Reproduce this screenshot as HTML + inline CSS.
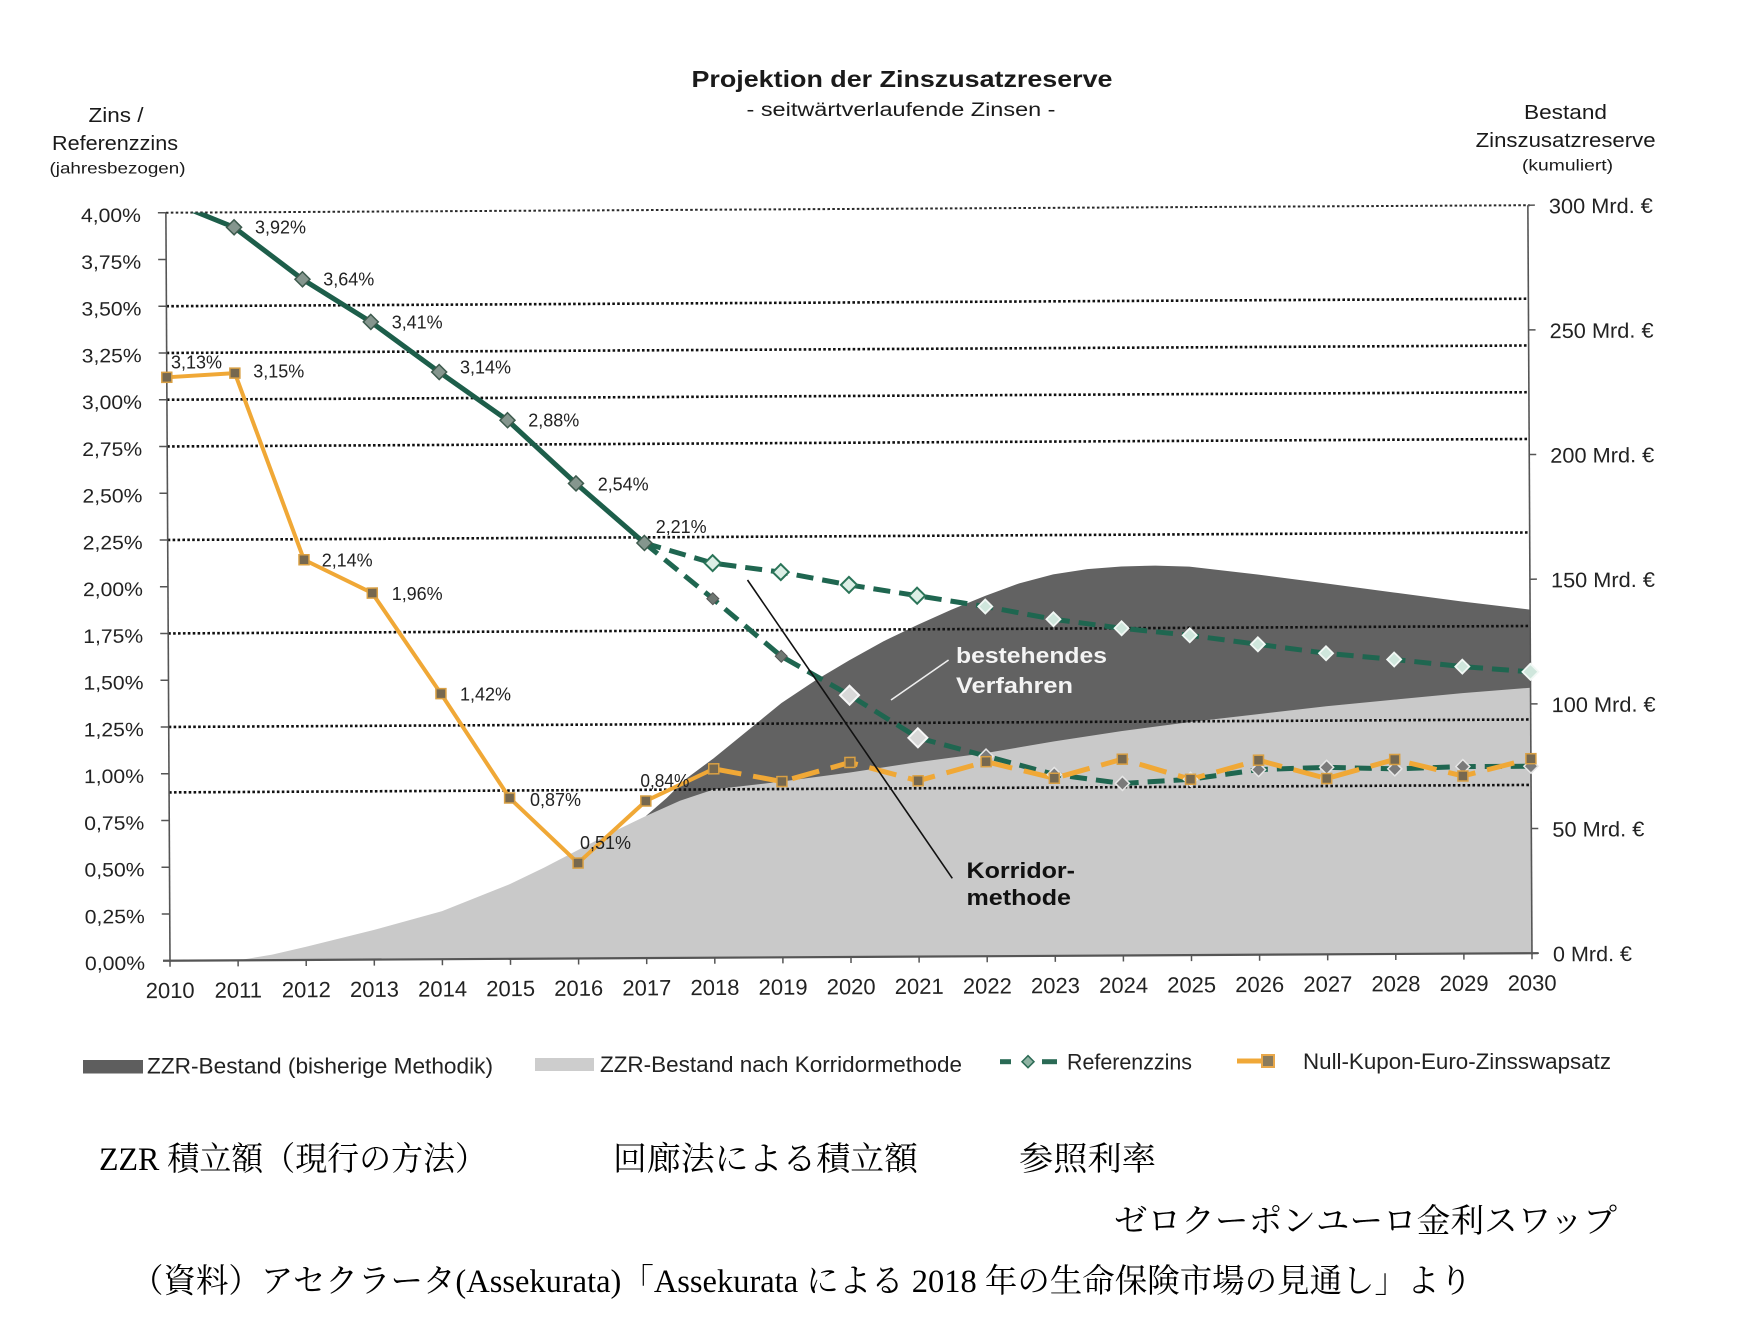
<!DOCTYPE html>
<html><head><meta charset="utf-8"><style>
html,body{margin:0;padding:0;background:#fff;}
svg{display:block;}
.s{font-family:"Liberation Sans",Arial,sans-serif;}
.j{font-family:"Liberation Serif","Noto Serif CJK SC",serif;}
</style></head><body>
<svg width="1741" height="1325" viewBox="0 0 1741 1325" xmlns="http://www.w3.org/2000/svg">
<defs>
<clipPath id="pc"><rect x="160" y="212.7" width="1390" height="760"/></clipPath>
<path id="d7" d="M0,-7 L7,0 L0,7 L-7,0Z"/>
<path id="d75" d="M0,-7.5 L7.5,0 L0,7.5 L-7.5,0Z"/>
<path id="d8" d="M0,-8 L8,0 L0,8 L-8,0Z"/>
<path id="d6" d="M0,-6 L6,0 L0,6 L-6,0Z"/>
<path id="d9" d="M0,-9.5 L9.5,0 L0,9.5 L-9.5,0Z"/>
<rect id="sq" x="-5" y="-5" width="10" height="10"/>
</defs>
<rect width="1741" height="1325" fill="#fff"/>

<!-- titles -->
<g class="s" fill="#1a1a1a">
<text x="902" y="87" font-size="23" font-weight="bold" text-anchor="middle" textLength="421" lengthAdjust="spacingAndGlyphs">Projektion der Zinszusatzreserve</text>
<text x="901" y="116" font-size="19" text-anchor="middle" textLength="309" lengthAdjust="spacingAndGlyphs">- seitwärtverlaufende Zinsen -</text>
<text x="116" y="122" font-size="20" text-anchor="middle" textLength="55" lengthAdjust="spacingAndGlyphs">Zins /</text>
<text x="115" y="150" font-size="20" text-anchor="middle" textLength="126" lengthAdjust="spacingAndGlyphs">Referenzzins</text>
<text x="117.5" y="173.5" font-size="16" text-anchor="middle" textLength="136" lengthAdjust="spacingAndGlyphs">(jahresbezogen)</text>
<text x="1565.5" y="119" font-size="20" text-anchor="middle" textLength="83" lengthAdjust="spacingAndGlyphs">Bestand</text>
<text x="1565.6" y="147" font-size="20" text-anchor="middle" textLength="180" lengthAdjust="spacingAndGlyphs">Zinszusatzreserve</text>
<text x="1567.5" y="170.5" font-size="16" text-anchor="middle" textLength="91" lengthAdjust="spacingAndGlyphs">(kumuliert)</text>
</g>

<g transform="rotate(-0.315 170 960.7)">
<!-- areas -->
<path fill="#626262" d="M646.7,818.6 L667.1,801.1 L687.6,781.2 L714.8,761.2 L748.9,733.8 L782.9,706.4 L817,683.9 L851,664 L885.1,645.3 L919.1,629.1 L953.2,614.1 L987.2,600.4 L1021.3,588 L1055.3,579.2 L1089.4,574.2 L1123.4,571.7 L1157.5,571 L1191.5,572.2 L1259.6,580.5 L1327.7,589.7 L1395.8,599.2 L1463.9,608.6 L1532,617.1 L1532,960.7 L646.7,960.7 Z"/>
<path fill="#c9c9c9" d="M238.1,960.7 L272.2,955.2 L306.2,947.5 L374.3,931 L442.4,912.6 L510.5,885.9 L544.6,869.7 L578.6,852.2 L612.7,834.8 L646.7,818.6 L680.8,803.6 L714.8,792.4 L782.9,784.9 L851,776.2 L919.1,766.2 L987.2,757.5 L1055.3,746.3 L1123.4,736.3 L1191.5,727.6 L1259.6,720.1 L1327.7,712.6 L1395.8,706.4 L1463.9,700.2 L1532,695.2 L1532,960.7 Z"/>

<!-- gridlines -->
<g stroke="#111" stroke-width="2.6" stroke-dasharray="2.6 2.3">
<line x1="170" x2="1534" y1="212.7" y2="212.7" stroke-width="2" stroke="#2a2a2a"/>
<line x1="170" x2="1532" y1="306.2" y2="306.2"/>
<line x1="170" x2="1532" y1="352.95" y2="352.95"/>
<line x1="170" x2="1532" y1="399.7" y2="399.7"/>
<line x1="170" x2="1532" y1="446.45" y2="446.45"/>
<line x1="170" x2="1532" y1="539.95" y2="539.95"/>
<line x1="170" x2="1532" y1="633.45" y2="633.45"/>
<line x1="170" x2="1532" y1="726.95" y2="726.95"/>
<line x1="170" x2="1532" y1="792.4" y2="792.4"/>
</g>

<!-- axes -->
<g stroke="#555" fill="none">
<line x1="170" y1="212.7" x2="170" y2="962" stroke-width="1.6"/>
<line x1="1532" y1="212.7" x2="1532" y2="962" stroke-width="1.6"/>
<line x1="163" y1="960.7" x2="1538" y2="960.7" stroke-width="2.2"/>
<path stroke-width="1.5" d="M162,212.7h8 M162,259.45h8 M162,306.2h8 M162,352.95h8 M162,399.7h8 M162,446.45h8 M162,493.2h8 M162,539.95h8 M162,586.7h8 M162,633.45h8 M162,680.2h8 M162,726.95h8 M162,773.7h8 M162,820.45h8 M162,867.2h8 M162,913.95h8"/>
<path stroke-width="1.5" d="M1532,212.7h7 M1532,337.4h7 M1532,462h7 M1532,586.7h7 M1532,711.4h7 M1532,836h7 M1532,960.7h7"/>
<path stroke-width="1.5" d="M170,960.7v6 M238.1,960.7v6 M306.2,960.7v6 M374.3,960.7v6 M442.4,960.7v6 M510.5,960.7v6 M578.6,960.7v6 M646.7,960.7v6 M714.8,960.7v6 M782.9,960.7v6 M851,960.7v6 M919.1,960.7v6 M987.2,960.7v6 M1055.3,960.7v6 M1123.4,960.7v6 M1191.5,960.7v6 M1259.6,960.7v6 M1327.7,960.7v6 M1395.8,960.7v6 M1463.9,960.7v6 M1532,960.7v6"/>
</g>

<!-- left tick labels -->
<g class="s" font-size="19.5" fill="#222" text-anchor="end">
<text x="145" y="221.7" textLength="60" lengthAdjust="spacingAndGlyphs">4,00%</text>
<text x="145" y="268.5" textLength="60" lengthAdjust="spacingAndGlyphs">3,75%</text>
<text x="145" y="315.2" textLength="60" lengthAdjust="spacingAndGlyphs">3,50%</text>
<text x="145" y="362" textLength="60" lengthAdjust="spacingAndGlyphs">3,25%</text>
<text x="145" y="408.7" textLength="60" lengthAdjust="spacingAndGlyphs">3,00%</text>
<text x="145" y="455.5" textLength="60" lengthAdjust="spacingAndGlyphs">2,75%</text>
<text x="145" y="502.2" textLength="60" lengthAdjust="spacingAndGlyphs">2,50%</text>
<text x="145" y="549" textLength="60" lengthAdjust="spacingAndGlyphs">2,25%</text>
<text x="145" y="595.7" textLength="60" lengthAdjust="spacingAndGlyphs">2,00%</text>
<text x="145" y="642.5" textLength="60" lengthAdjust="spacingAndGlyphs">1,75%</text>
<text x="145" y="689.2" textLength="60" lengthAdjust="spacingAndGlyphs">1,50%</text>
<text x="145" y="736" textLength="60" lengthAdjust="spacingAndGlyphs">1,25%</text>
<text x="145" y="782.7" textLength="60" lengthAdjust="spacingAndGlyphs">1,00%</text>
<text x="145" y="829.5" textLength="60" lengthAdjust="spacingAndGlyphs">0,75%</text>
<text x="145" y="876.2" textLength="60" lengthAdjust="spacingAndGlyphs">0,50%</text>
<text x="145" y="923" textLength="60" lengthAdjust="spacingAndGlyphs">0,25%</text>
<text x="145" y="969.7" textLength="60" lengthAdjust="spacingAndGlyphs">0,00%</text>
</g>
<!-- right tick labels -->
<g class="s" font-size="21" fill="#222">
<text x="1553" y="221" textLength="104" lengthAdjust="spacingAndGlyphs">300 Mrd. €</text>
<text x="1553" y="345.7" textLength="104" lengthAdjust="spacingAndGlyphs">250 Mrd. €</text>
<text x="1553" y="470.3" textLength="104" lengthAdjust="spacingAndGlyphs">200 Mrd. €</text>
<text x="1553" y="595" textLength="104" lengthAdjust="spacingAndGlyphs">150 Mrd. €</text>
<text x="1553" y="719.7" textLength="104" lengthAdjust="spacingAndGlyphs">100 Mrd. €</text>
<text x="1553" y="844.3" textLength="92" lengthAdjust="spacingAndGlyphs">50 Mrd. €</text>
<text x="1553" y="969" textLength="79" lengthAdjust="spacingAndGlyphs">0 Mrd. €</text>
</g>
<!-- year labels -->
<g class="s" font-size="22" fill="#222" text-anchor="middle">
<text x="170" y="998">2010</text><text x="238.1" y="998">2011</text><text x="306.2" y="998">2012</text><text x="374.3" y="998">2013</text><text x="442.4" y="998">2014</text><text x="510.5" y="998">2015</text><text x="578.6" y="998">2016</text><text x="646.7" y="998">2017</text><text x="714.8" y="998">2018</text><text x="782.9" y="998">2019</text><text x="851" y="998">2020</text><text x="919.1" y="998">2021</text><text x="987.2" y="998">2022</text><text x="1055.3" y="998">2023</text><text x="1123.4" y="998">2024</text><text x="1191.5" y="998">2025</text><text x="1259.6" y="998">2026</text><text x="1327.7" y="998">2027</text><text x="1395.8" y="998">2028</text><text x="1463.9" y="998">2029</text><text x="1532" y="998">2030</text>
</g>

<!-- series lines -->
<g fill="none" stroke-linejoin="round">
<path clip-path="url(#pc)" stroke="#1d5e4a" stroke-width="5" d="M170,199.6 L238.1,227.7 L306.2,280 L374.3,323 L442.4,373.5 L510.5,422.1 L578.6,485.7 L646.7,545.6"/>
<path stroke="#1f6650" stroke-width="5" stroke-dasharray="17 9" d="M646.7,545.6 L714.8,566.1 L782.9,575.5 L851,588.6 L919.1,599.8 L987.2,611 L1055.3,624.1 L1123.4,633.5 L1191.5,640.9 L1259.6,650.3 L1327.7,659.6 L1395.8,666.2 L1463.9,673.7 L1532,679.3"/>
<path stroke="#1f6650" stroke-width="5" stroke-dasharray="17 9" d="M646.7,545.6 L714.8,601.7 L782.9,659.6 L851,698.9 L919.1,741.9 L987.2,760.6 L1055.3,779.3 L1123.4,788.7 L1191.5,784.9 L1259.6,775.6 L1327.7,773.7 L1395.8,775.6 L1463.9,773.7 L1532,773.7"/>
<path stroke="#f0a836" stroke-width="4" d="M170,377.3 L238.1,373.5 L306.2,560.5 L374.3,594.2 L442.4,695.1 L510.5,799.9 L578.6,865.3 L646.7,803.6 L714.8,771.8"/>
<path stroke="#f0a836" stroke-width="5" stroke-dasharray="28 12" d="M714.8,771.8 L782.9,784.9 L851,766.2 L919.1,784.9 L987.2,766.2 L1055.3,783.1 L1123.4,764.4 L1191.5,784.9 L1259.6,766.2 L1327.7,784.9 L1395.8,766.2 L1463.9,783.1 L1532,766.2"/>
</g>

<!-- markers -->
<g fill="#85968e" stroke="#3d5a4d" stroke-width="1.5">
<use href="#d75" x="238.1" y="227.7"/><use href="#d75" x="306.2" y="280"/><use href="#d75" x="374.3" y="323"/><use href="#d75" x="442.4" y="373.5"/><use href="#d75" x="510.5" y="422.1"/><use href="#d75" x="578.6" y="485.7"/><use href="#d75" x="646.7" y="545.6"/>
</g>
<g fill="#6f7772" stroke="#555" stroke-width="1">
<use href="#d6" x="714.8" y="601.7"/><use href="#d6" x="782.9" y="659.6"/>
</g>
<g fill="#d8d8d8" stroke="#f6f6f6" stroke-width="2">
<use href="#d9" x="851" y="698.9"/><use href="#d9" x="919.1" y="741.9"/>
</g>
<g fill="#7a7a7a" stroke="#e6e6e6" stroke-width="1.5">
<use href="#d7" x="987.2" y="760.6"/><use href="#d7" x="1055.3" y="779.3"/><use href="#d7" x="1123.4" y="788.7"/><use href="#d7" x="1191.5" y="784.9"/><use href="#d7" x="1259.6" y="775.6"/><use href="#d7" x="1327.7" y="773.7"/><use href="#d7" x="1395.8" y="775.6"/><use href="#d7" x="1463.9" y="773.7"/><use href="#d7" x="1532" y="773.7"/>
</g>
<g fill="#dcefe6" stroke="#2a7458" stroke-width="2">
<use href="#d8" x="714.8" y="566.1"/><use href="#d8" x="782.9" y="575.5"/><use href="#d8" x="851" y="588.6"/><use href="#d8" x="919.1" y="599.8"/>
</g>
<g fill="#cfe6dc" stroke="#f2f8f5" stroke-width="1.8">
<use href="#d7" x="987.2" y="611"/><use href="#d7" x="1055.3" y="624.1"/><use href="#d7" x="1123.4" y="633.5"/><use href="#d7" x="1191.5" y="640.9"/><use href="#d7" x="1259.6" y="650.3"/><use href="#d7" x="1327.7" y="659.6"/><use href="#d7" x="1395.8" y="666.2"/><use href="#d7" x="1463.9" y="673.7"/><use href="#d8" x="1532" y="679.3"/>
</g>
<g fill="#76684f" stroke="#d9a044" stroke-width="1.5">
<use href="#sq" x="170" y="377.3"/><use href="#sq" x="238.1" y="373.5"/><use href="#sq" x="306.2" y="560.5"/><use href="#sq" x="374.3" y="594.2"/><use href="#sq" x="442.4" y="695.1"/><use href="#sq" x="510.5" y="799.9"/><use href="#sq" x="578.6" y="865.3"/><use href="#sq" x="646.7" y="803.6"/><use href="#sq" x="714.8" y="771.8"/><use href="#sq" x="782.9" y="784.9"/><use href="#sq" x="851" y="766.2"/><use href="#sq" x="919.1" y="784.9"/><use href="#sq" x="987.2" y="766.2"/><use href="#sq" x="1055.3" y="783.1"/><use href="#sq" x="1123.4" y="764.4"/><use href="#sq" x="1191.5" y="784.9"/><use href="#sq" x="1259.6" y="766.2"/><use href="#sq" x="1327.7" y="784.9"/><use href="#sq" x="1395.8" y="766.2"/><use href="#sq" x="1463.9" y="783.1"/><use href="#sq" x="1532" y="766.2"/>
</g>
</g>

<!-- data labels -->
<g class="s" font-size="18.5" fill="#222">
<text x="255" y="233.3" textLength="51" lengthAdjust="spacingAndGlyphs">3,92%</text>
<text x="323.3" y="285.7" textLength="51" lengthAdjust="spacingAndGlyphs">3,64%</text>
<text x="391.7" y="328.3" textLength="51" lengthAdjust="spacingAndGlyphs">3,41%</text>
<text x="460" y="373.3" textLength="51" lengthAdjust="spacingAndGlyphs">3,14%</text>
<text x="528.3" y="426.7" textLength="51" lengthAdjust="spacingAndGlyphs">2,88%</text>
<text x="597.7" y="490.7" textLength="51" lengthAdjust="spacingAndGlyphs">2,54%</text>
<text x="655.7" y="533" textLength="51" lengthAdjust="spacingAndGlyphs">2,21%</text>
<text x="171" y="368.3" textLength="51" lengthAdjust="spacingAndGlyphs">3,13%</text>
<text x="253.3" y="377.7" textLength="51" lengthAdjust="spacingAndGlyphs">3,15%</text>
<text x="321.7" y="566.7" textLength="51" lengthAdjust="spacingAndGlyphs">2,14%</text>
<text x="391.7" y="600" textLength="51" lengthAdjust="spacingAndGlyphs">1,96%</text>
<text x="460" y="700.7" textLength="51" lengthAdjust="spacingAndGlyphs">1,42%</text>
<text x="530" y="806" textLength="51" lengthAdjust="spacingAndGlyphs">0,87%</text>
<text x="580" y="849" textLength="51" lengthAdjust="spacingAndGlyphs">0,51%</text>
<text x="640.4" y="787" textLength="49" lengthAdjust="spacingAndGlyphs">0,84%</text>
</g>

<!-- annotations -->
<line x1="747.5" y1="580" x2="952.3" y2="878.3" stroke="#111" stroke-width="1.6"/>
<line x1="891" y1="700" x2="948.6" y2="660" stroke="#eee" stroke-width="1.6"/>
<g class="s" font-size="22" font-weight="bold">
<text x="956" y="663" fill="#f4f4f4" textLength="151" lengthAdjust="spacingAndGlyphs">bestehendes</text>
<text x="956" y="693" fill="#f4f4f4" textLength="117" lengthAdjust="spacingAndGlyphs">Verfahren</text>
<text x="966.5" y="878" fill="#111" textLength="108.5" lengthAdjust="spacingAndGlyphs">Korridor-</text>
<text x="966.5" y="905" fill="#111" textLength="104.5" lengthAdjust="spacingAndGlyphs">methode</text>
</g>

<!-- legend -->
<rect x="83" y="1060" width="60" height="13.5" fill="#5e5e5e"/>
<rect x="535" y="1058" width="59" height="13" fill="#cdcdcd"/>
<line x1="1000" y1="1061.7" x2="1011" y2="1061.7" stroke="#2a6a55" stroke-width="5"/>
<line x1="1042" y1="1061.7" x2="1057" y2="1061.7" stroke="#2a6a55" stroke-width="5"/>
<use href="#d6" x="1028" y="1061.7" fill="#8fb3a3" stroke="#2c6b55" stroke-width="1.5"/>
<line x1="1237" y1="1061" x2="1262" y2="1061" stroke="#f0a838" stroke-width="5"/>
<rect x="1262" y="1055" width="12" height="12" fill="#8b7b5c" stroke="#e9a84a" stroke-width="2"/>
<g class="s" font-size="22.5" fill="#222">
<text x="147" y="1073.5" textLength="346" lengthAdjust="spacingAndGlyphs">ZZR-Bestand (bisherige Methodik)</text>
<text x="600" y="1072" textLength="362" lengthAdjust="spacingAndGlyphs">ZZR-Bestand nach Korridormethode</text>
<text x="1067" y="1069.5" textLength="125" lengthAdjust="spacingAndGlyphs">Referenzzins</text>
<text x="1303" y="1069" textLength="308" lengthAdjust="spacingAndGlyphs">Null-Kupon-Euro-Zinsswapsatz</text>
</g>

<!-- Japanese captions -->
<g class="j" font-size="33" fill="#000">
<text x="99" y="1170" textLength="388" lengthAdjust="spacingAndGlyphs">ZZR 積立額（現行の方法）</text>
<text x="613" y="1170" textLength="305" lengthAdjust="spacingAndGlyphs">回廊法による積立額</text>
<text x="1019" y="1170" textLength="137" lengthAdjust="spacingAndGlyphs">参照利率</text>
<text x="1114" y="1232" textLength="503" lengthAdjust="spacingAndGlyphs">ゼロクーポンユーロ金利スワップ</text>
<text x="131" y="1292" textLength="1341" lengthAdjust="spacingAndGlyphs">（資料）アセクラータ(Assekurata)「Assekurata による 2018 年の生命保険市場の見通し」より</text>
</g>
</svg>
</body></html>
